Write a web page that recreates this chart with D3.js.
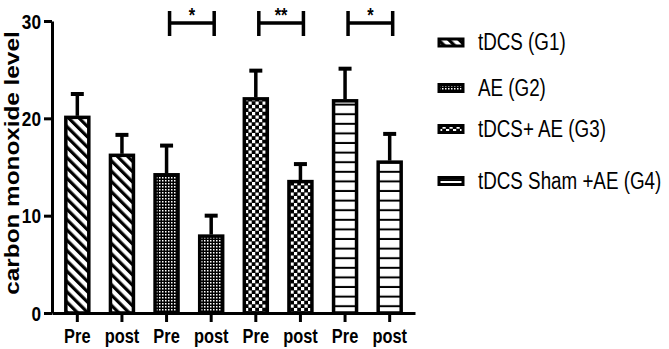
<!DOCTYPE html>
<html>
<head>
<meta charset="utf-8">
<script src="https://cdn.jsdelivr.net/npm/d3@7"></script>
<style>
  body { margin: 0; background: #fff; }
  text { font-family: "Liberation Sans", Arial, sans-serif; }
</style>
</head>
<body>
<script>
const timeLabels = ["Pre", "post", "Pre", "post", "Pre", "post", "Pre", "post"]
const groupNames = ["tDCS (G1)", "AE (G2)", "tDCS+ AE (G3)", "tDCS Sham +AE (G4)"]
const barGroup = [0, 0, 1, 1, 2, 2, 3, 3]
const means = [20.1, 16.2, 14.2, 7.9, 22.0, 13.5, 21.8, 15.5]
const errors = [2.4, 2.1, 3.0, 2.1, 2.9, 1.8, 3.3, 2.9]
const yTicks = [0, 10, 20, 30]
const sigPairs = [[2, 3, "*"], [4, 5, "**"], [6, 7, "*"]]

const W = 669, H = 349
const squash = 0.82   // picture is squeezed sideways

const svg = d3.select("body").append("svg")
  .attr("width", W)
  .attr("height", H)

const defs = svg.append("defs")

// G1 diagonal stripes
let p1 = defs.append("pattern").attr("id", "pat0")
  .attr("patternUnits", "userSpaceOnUse")
  .attr("width", 7.3).attr("height", 7.3)
  .attr("patternTransform", "rotate(-45)")
p1.append("rect").attr("width", 7.3).attr("height", 7.3).attr("fill", "#fff")
p1.append("rect").attr("width", 3.2).attr("height", 7.3).attr("fill", "#000")

// G2 fine dots
let p2 = defs.append("pattern").attr("id", "pat1")
  .attr("patternUnits", "userSpaceOnUse")
  .attr("width", 3).attr("height", 3)
p2.append("rect").attr("width", 3).attr("height", 3).attr("fill", "#000")
p2.append("rect").attr("width", 1.5).attr("height", 1.5).attr("fill", "#fff")

// G3 checks
let p3 = defs.append("pattern").attr("id", "pat2")
  .attr("patternUnits", "userSpaceOnUse")
  .attr("width", 7).attr("height", 7)
p3.append("rect").attr("width", 7).attr("height", 7).attr("fill", "#000")
p3.append("rect").attr("width", 3.2).attr("height", 3.2).attr("fill", "#fff")
p3.append("rect").attr("x", 3.5).attr("y", 3.5).attr("width", 3.2).attr("height", 3.2).attr("fill", "#fff")

// G4 horizontal lines
let p4 = defs.append("pattern").attr("id", "pat3")
  .attr("patternUnits", "userSpaceOnUse")
  .attr("width", 10).attr("height", 9.6)
p4.append("rect").attr("width", 10).attr("height", 9.6).attr("fill", "#fff")
p4.append("rect").attr("y", 7.6).attr("width", 10).attr("height", 2).attr("fill", "#000")

const x = d3.scaleBand()
  .domain(d3.range(timeLabels.length))
  .range([52, 415])
  .paddingInner(0.485)
  .paddingOuter(0.31)

const y = d3.scaleLinear()
  .domain([0, 30])
  .range([313, 21])

// bars
svg.selectAll("rect.bar")
  .data(means)
  .enter()
  .append("rect")
  .attr("class", "bar")
  .attr("x", (d, i) => x(i))
  .attr("y", d => y(d))
  .attr("width", x.bandwidth())
  .attr("height", d => y(0) - y(d))
  .attr("fill", (d, i) => `url(#pat${barGroup[i]})`)
  .attr("stroke", "#000")
  .attr("stroke-width", 3.5)

// error bars (up only)
const eb = svg.selectAll("g.err")
  .data(means)
  .enter()
  .append("g")
  .attr("class", "err")
eb.append("line")
  .attr("x1", (d, i) => x(i) + x.bandwidth() / 2)
  .attr("x2", (d, i) => x(i) + x.bandwidth() / 2)
  .attr("y1", d => y(d) - 1.5)
  .attr("y2", (d, i) => y(d + errors[i]))
  .attr("stroke", "#000").attr("stroke-width", 3.5)
eb.append("line")
  .attr("x1", (d, i) => x(i) + x.bandwidth() / 2 - 6.5)
  .attr("x2", (d, i) => x(i) + x.bandwidth() / 2 + 6.5)
  .attr("y1", (d, i) => y(d + errors[i]))
  .attr("y2", (d, i) => y(d + errors[i]))
  .attr("stroke", "#000").attr("stroke-width", 4)

// y axis
const yAxis = svg.append("g")
  .attr("transform", "translate(52,0)")
  .call(d3.axisLeft(y).tickValues(yTicks).tickSize(8).tickSizeOuter(0).tickFormat(d3.format("d")))
yAxis.select(".domain").attr("stroke-width", 3)
yAxis.selectAll(".tick line").attr("stroke-width", 3)
yAxis.selectAll(".tick text")
  .attr("x", null).attr("dy", null)
  .attr("font-size", 21).attr("font-weight", "bold").attr("fill", "#000")
  .attr("dominant-baseline", "central")
  .attr("text-anchor", "end")
  .attr("transform", `translate(-11,0) scale(${squash},1)`)

// x axis
const xAxis = svg.append("g")
  .attr("transform", `translate(0,${y(0)})`)
  .call(d3.axisBottom(x).tickSize(9).tickSizeOuter(0).tickFormat(i => timeLabels[i]))
xAxis.select(".domain").attr("stroke-width", 3)
xAxis.selectAll(".tick line").attr("stroke-width", 3)
xAxis.selectAll(".tick text")
  .attr("y", null).attr("dy", null)
  .attr("font-size", 20).attr("font-weight", "bold").attr("fill", "#000")
  .attr("transform", `translate(0,30) scale(${squash},1)`)

// y label
svg.append("text")
  .attr("transform", `translate(19,163) scale(${squash},1) rotate(-90)`)
  .attr("text-anchor", "middle")
  .attr("font-size", 24.3)
  .attr("font-weight", "bold")
  .text("carbon monoxide level")

// significance brackets
const sig = svg.selectAll("g.sig")
  .data(sigPairs)
  .enter()
  .append("g")
  .attr("class", "sig")
sig.append("path")
  .attr("d", d => {
    let x1 = x(d[0]) + x.bandwidth() / 2 + 3
    let x2 = x(d[1]) + x.bandwidth() / 2 + 3
    let yy = y(29.8)
    return `M${x1},${yy - 12}V${yy + 13}M${x1},${yy}H${x2}M${x2},${yy - 12}V${yy + 13}`
  })
  .attr("fill", "none")
  .attr("stroke", "#000")
  .attr("stroke-width", 3.5)
sig.append("text")
  .attr("transform", d => {
    let cx = (x(d[0]) + x(d[1])) / 2 + x.bandwidth() / 2 + 3
    return `translate(${cx},${y(29.8) - 1}) scale(${squash},1)`
  })
  .attr("text-anchor", "middle")
  .attr("font-size", 20)
  .attr("font-weight", "bold")
  .text(d => d[2])

// legend
const legendY = [42.5, 88, 129, 181]
const leg = svg.selectAll("g.leg")
  .data(groupNames)
  .enter()
  .append("g")
  .attr("class", "leg")
  .attr("transform", (d, i) => `translate(439,${legendY[i]})`)
leg.append("rect")
  .attr("x", 0).attr("y", -3.5)
  .attr("width", 24).attr("height", 7)
  .attr("fill", (d, i) => `url(#pat${i})`)
  .attr("stroke", "#000")
  .attr("stroke-width", 3)
leg.append("text")
  .attr("transform", `translate(39,0) scale(0.8,1)`)
  .attr("dominant-baseline", "central")
  .attr("font-size", 23.5)
  .text(d => d)
</script>
</body>
</html>
